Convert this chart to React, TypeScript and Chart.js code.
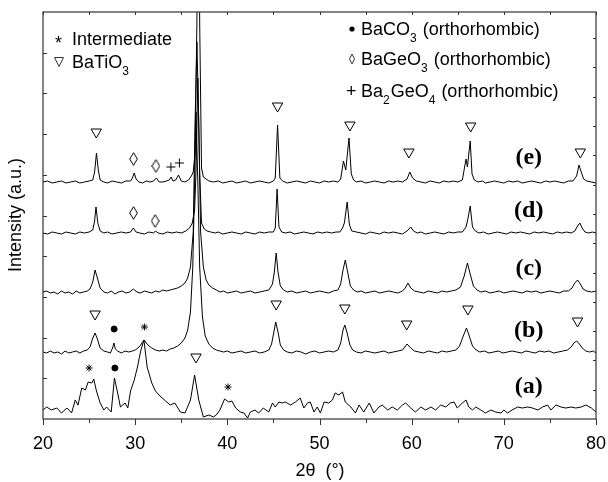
import { useEffect, useRef } from "react";
import { Chart, registerables } from "chart.js";
Chart.register(...registerables);

// ---------- data ----------
const xTicks = [20, 30, 40, 50, 60, 70, 80];
const xMinorTicks = [25, 35, 45, 55, 65, 75];
const curveNames = ["(a)", "(b)", "(c)", "(d)", "(e)"];

// (a) absolute, others relative to their own baseline
const seriesA: [number, number][] = [
  [20.0, 9], [20.4, 12], [20.9, 9], [21.5, 11], [22.0, 6], [22.6, 11], [23.1, 6], [23.5, 19], [23.8, 14], [24.2, 31],
  [24.6, 29], [24.9, 37], [25.3, 36], [25.5, 40], [25.8, 28], [26.2, 16], [26.6, 9], [26.9, 12], [27.4, 7], [27.75, 41],
  [28.1, 26], [28.4, 12], [28.9, 16], [29.2, 11], [29.5, 28], [29.9, 39], [30.25, 52], [30.6, 68], [30.95, 79], [31.3, 52],
  [31.8, 36], [32.2, 28], [32.7, 23], [33.3, 18], [33.8, 14], [34.3, 16], [34.9, 7], [35.4, 6], [36.0, 19], [36.45, 44],
  [36.9, 19], [37.4, 2], [38.0, 4], [38.5, 2], [38.8, 4], [39.2, 9], [39.7, 20], [40.15, 17], [40.5, 18], [40.9, 11],
  [41.4, 7], [41.8, 6], [42.2, 1], [42.5, 7], [43.0, 9], [43.4, 6], [43.9, 11], [44.5, 7], [44.9, 16], [45.2, 12],
  [45.6, 17], [45.95, 16], [46.3, 17], [46.85, 14], [47.4, 17], [47.9, 21], [48.3, 11], [48.7, 16], [49.0, 17], [49.4, 7],
  [49.75, 12], [50.1, 6], [50.5, 17], [51.0, 16], [51.4, 19], [51.7, 26], [52.1, 24], [52.5, 27], [52.8, 17], [53.4, 12],
  [53.9, 6], [54.3, 14], [54.8, 7], [55.4, 16], [55.9, 6], [56.45, 12], [56.8, 14], [57.4, 9], [57.9, 12], [58.45, 9],
  [59.0, 14], [59.35, 16], [59.9, 11], [60.4, 7], [61.0, 12], [61.5, 9], [62.1, 12], [62.6, 9], [63.15, 14], [63.7, 12],
  [64.2, 16], [64.6, 17], [64.95, 11], [65.5, 16], [65.9, 19], [66.2, 12], [66.6, 9], [66.95, 12], [67.5, 9], [68.0, 6],
  [68.6, 9], [69.1, 7], [69.7, 6], [70.0, 9], [70.4, 6], [70.9, 9], [71.5, 12], [72.0, 11], [72.6, 12], [73.1, 11],
  [73.7, 9], [74.2, 12], [74.75, 14], [75.1, 9], [75.65, 14], [76.2, 12], [76.7, 11], [77.3, 12], [77.8, 11], [78.4, 12],
  [78.9, 14], [79.5, 11], [80.0, 7],
];

const seriesB: [number, number][] = [
  [20, 0], [20.4, -1], [20.8, 1], [21.2, -1], [21.6, 0], [22, -2], [22.4, 1], [22.8, -1], [23.2, 0], [23.6, 1],
  [24, -1], [24.4, 1], [24.8, 2], [25.1, 5], [25.4, 14], [25.65, 19], [25.9, 13], [26.2, 4], [26.6, 1], [27, 0],
  [27.3, -1], [27.55, 4], [27.7, 9], [27.85, 3], [28.1, 1], [28.5, -1], [28.9, 1], [29.3, 0], [29.7, 1], [30, 2],
  [30.3, 4], [30.6, 7], [30.8, 10], [31, 12], [31.2, 9], [31.5, 6], [31.8, 4], [32.2, 2], [32.6, 1], [33, 2],
  [33.4, 1], [33.8, 3], [34.2, 4], [34.6, 6], [35, 9], [35.4, 14], [35.7, 22], [36, 40], [36.25, 85], [36.45, 170],
  [36.6, 240], [36.8, 170], [37.0, 85], [37.3, 35], [37.6, 16], [38, 8], [38.4, 4], [38.8, 2], [39.2, 1], [39.6, 0],
  [40, 1], [40.5, -1], [41, 0], [41.5, 1], [42, -1], [42.5, 0], [43, 1], [43.5, -1], [44, 0], [44.5, 2],
  [44.8, 8], [45.05, 20], [45.25, 30], [45.5, 20], [45.75, 7], [46.1, 2], [46.5, 0], [47, -1], [47.5, 1], [48, 0],
  [48.5, -2], [49, 0], [49.5, 1], [50, -1], [50.5, 0], [51, 1], [51.5, 0], [52, 2], [52.3, 9], [52.55, 22],
  [52.75, 27], [53, 19], [53.3, 7], [53.6, 2], [54, 0], [54.5, -1], [55, 1], [55.5, 0], [56, -1], [56.5, 0],
  [57, 1], [57.5, -1], [58, 0], [58.5, 1], [59, 2], [59.5, 8], [59.9, 4], [60.3, 1], [60.8, 0], [61.3, -1],
  [61.8, 1], [62.3, 0], [62.8, -1], [63.3, 1], [63.8, 0], [64.3, 1], [64.8, 2], [65.2, 6], [65.6, 16], [65.95, 24],
  [66.25, 16], [66.6, 6], [67, 2], [67.4, 0], [67.9, 1], [68.4, -1], [68.9, 0], [69.4, 1], [69.9, -1], [70.4, 0],
  [70.9, 1], [71.4, 0], [71.9, -1], [72.4, 1], [72.9, 0], [73.4, -1], [73.9, 1], [74.4, 0], [74.9, 1], [75.4, -1],
  [75.9, 0], [76.4, 1], [76.9, 2], [77.3, 5], [77.6, 9], [77.9, 11], [78.2, 8], [78.5, 4], [78.9, 1], [79.3, 0],
  [79.7, 1], [80, -1],
];

const seriesC: [number, number][] = [
  [20, 0], [20.4, 1], [20.8, -1], [21.2, 0], [21.6, -2], [22, 1], [22.4, -1], [22.8, 0], [23.2, -2], [23.6, 1],
  [24, -1], [24.4, 0], [24.8, 1], [25.1, 3], [25.4, 10], [25.65, 22], [25.9, 14], [26.2, 4], [26.6, 0], [27, -1],
  [27.4, 1], [27.8, -2], [28.2, 0], [28.6, 1], [29, -1], [29.4, 0], [29.8, 3], [30.2, 0], [30.6, -1], [31, 1],
  [31.4, 0], [31.8, -1], [32.2, 1], [32.6, 0], [33, 2], [33.4, 1], [33.8, 2], [34.2, 3], [34.6, 4], [35, 6],
  [35.4, 9], [35.7, 14], [36, 25], [36.3, 60], [36.5, 170], [36.7, 250], [36.9, 170], [37.1, 60], [37.4, 25], [37.7, 12],
  [38, 7], [38.4, 4], [38.8, 2], [39.2, 0], [39.6, 1], [40, -1], [40.5, 0], [41, 1], [41.5, -1], [42, 0],
  [42.5, 1], [43, -1], [43.5, 0], [44, 1], [44.5, 2], [44.9, 8], [45.1, 20], [45.3, 39], [45.5, 20], [45.75, 6],
  [46.1, 2], [46.5, 0], [47, 1], [47.5, -1], [48, 0], [48.5, 1], [49, -1], [49.5, 0], [50, 1], [50.5, 0],
  [51, -1], [51.5, 1], [52, 2], [52.3, 8], [52.55, 22], [52.8, 32], [53.05, 20], [53.35, 6], [53.7, 2], [54.1, 0],
  [54.5, 1], [55, -1], [55.5, 0], [56, 1], [56.5, -1], [57, 0], [57.5, 1], [58, 0], [58.5, -1], [59, 1],
  [59.3, 4], [59.6, 9], [59.9, 4], [60.3, 1], [60.8, 0], [61.3, -1], [61.8, 1], [62.3, 0], [62.8, -1], [63.3, 1],
  [63.8, 0], [64.3, 1], [64.8, 2], [65.3, 5], [65.7, 16], [66.05, 29], [66.35, 18], [66.7, 6], [67.1, 2], [67.5, 0],
  [68, 1], [68.5, -1], [69, 0], [69.5, 1], [70, -1], [70.5, 0], [71, 1], [71.5, 0], [72, -1], [72.5, 1],
  [73, 0], [73.5, 1], [74, -1], [74.5, 0], [75, 1], [75.5, 0], [76, -1], [76.5, 1], [77, 1], [77.4, 4],
  [77.7, 9], [78, 12], [78.3, 8], [78.6, 3], [79, 1], [79.5, 0], [80, 1],
];

const seriesD: [number, number][] = [
  [20, 0], [20.5, -1], [21, 1], [21.5, 0], [22, -1], [22.5, 1], [23, 0], [23.5, -1], [24, 1], [24.5, 0],
  [25, 1], [25.4, 3], [25.6, 12], [25.75, 26], [25.95, 10], [26.2, 2], [26.6, 0], [27, 1], [27.5, -1], [28, 0],
  [28.5, 1], [29, 0], [29.5, 1], [29.8, 5], [30.1, 1], [30.5, 0], [31, -1], [31.5, 1], [32, 0], [32.2, 2],
  [32.5, 0], [33, -1], [33.5, 1], [34, 0], [34.5, 1], [35, 0], [35.5, 2], [35.9, 5], [36.2, 10], [36.45, 23],
  [36.6, 60], [36.8, 155], [37.0, 60], [37.2, 10], [37.5, 4], [37.8, 2], [38.2, 1], [38.7, 0], [39, 1], [39.5, -1],
  [40, 0], [40.5, 1], [41, 0], [41.5, -1], [42, 1], [42.5, 0], [43, -1], [43.5, 1], [44, 0], [44.5, 1],
  [45, 1], [45.2, 5], [45.4, 44], [45.6, 6], [45.9, 1], [46.3, 0], [46.8, 1], [47.3, -1], [47.8, 0], [48.3, 1],
  [48.8, 0], [49.3, -1], [49.8, 1], [50.3, 0], [50.8, 1], [51.3, 0], [51.8, 1], [52.2, 1], [52.5, 5], [52.7, 10],
  [53.0, 31], [53.25, 8], [53.5, 2], [54, 1], [54.5, 0], [55, -1], [55.5, 1], [56, 0], [56.5, -1], [57, 1],
  [57.5, 0], [58, 1], [58.5, 0], [59, -1], [59.5, 2], [59.9, 6], [60.2, 2], [60.6, 0], [61, 1], [61.5, -1],
  [62, 0], [62.5, 1], [63, 0], [63.5, -1], [64, 1], [64.5, 0], [65, 1], [65.5, 1], [65.9, 6], [66.1, 14],
  [66.35, 27], [66.6, 6], [66.9, 2], [67.3, 0], [67.8, 1], [68.3, -1], [68.8, 0], [69.3, 1], [69.8, 0], [70.3, -1],
  [70.8, 1], [71.3, 0], [71.8, 1], [72.3, 0], [72.8, -1], [73.3, 1], [73.8, 0], [74.3, 1], [74.8, 0], [75.3, -1],
  [75.8, 1], [76.3, 0], [76.8, 1], [77.3, 0], [77.7, 2], [78.0, 7], [78.25, 10], [78.5, 5], [78.8, 1], [79.2, 0],
  [79.6, 1], [80, 0],
];

const seriesE: [number, number][] = [
  [20, 0], [20.5, 1], [21, -1], [21.5, 0], [22, 1], [22.5, -1], [23, 0], [23.5, 1], [24, -1], [24.5, 0],
  [25, 1], [25.4, 2], [25.6, 10], [25.8, 29], [26, 12], [26.2, 2], [26.6, 0], [27, -1], [27.5, 1], [28, 0],
  [28.5, -1], [29, 1], [29.5, 1], [29.7, 4], [29.9, 9], [30.1, 3], [30.4, 0], [30.8, -1], [31.2, 1], [31.6, 0],
  [32, 1], [32.3, 4], [32.6, 0], [33, 0], [33.4, 1], [33.7, 2], [33.9, 5], [34.1, 1], [34.4, 2], [34.7, 7],
  [35, 1], [35.4, 0], [35.8, 2], [36.1, 6], [36.3, 10], [36.5, 28], [36.7, 160], [36.85, 460], [37.0, 160], [37.2, 14],
  [37.4, 5], [37.7, 3], [38, 1], [38.5, 0], [39, 1], [39.5, -1], [40, 0], [40.5, 1], [41, -1], [41.5, 0],
  [42, 1], [42.5, -1], [43, 0], [43.5, 1], [44, 0], [44.5, -1], [45, 1], [45.2, 4], [45.45, 57], [45.7, 4],
  [46, 1], [46.5, -1], [47, 0], [47.5, 1], [48, 0], [48.5, -1], [49, 1], [49.5, 0], [50, -1], [50.5, 1],
  [51, 0], [51.5, 1], [52, 0], [52.3, 3], [52.6, 21], [52.85, 12], [53.2, 44], [53.45, 8], [53.7, 2], [54, 0],
  [54.5, 1], [55, -1], [55.5, 0], [56, 1], [56.5, 0], [57, -1], [57.5, 1], [58, 0], [58.5, 1], [59, 0],
  [59.5, 3], [59.8, 10], [60.1, 4], [60.5, 1], [61, 0], [61.5, -1], [62, 1], [62.5, 0], [63, -1], [63.5, 1],
  [64, 0], [64.5, 1], [65, 0], [65.5, 2], [65.9, 23], [66.05, 15], [66.35, 41], [66.55, 8], [66.8, 2], [67.2, 0],
  [67.7, 1], [68, -1], [68.5, 0], [69, 1], [69.5, 0], [70, -1], [70.5, 1], [71, 0], [71.5, 1], [72, -1],
  [72.5, 0], [73, 1], [73.5, 0], [74, -1], [74.5, 1], [75, 0], [75.5, 1], [76, 0], [76.5, -1], [77, 1],
  [77.5, 1], [77.9, 6], [78.15, 17], [78.4, 10], [78.65, 3], [79, 1], [79.5, 0], [80, -1],
];

// phase markers (2θ, plotted height)
const triangleMarks: [number, number][] = [
  [25.78, 287], [45.45, 313], [53.3, 294], [59.7, 267], [66.4, 293], [78.3, 267],
  [25.65, 105], [45.3, 115], [52.75, 111], [59.46, 95], [66.1, 110], [78.0, 98],
  [36.6, 62],
];
const diamondMarks: [number, number][] = [[29.82, 260], [32.25, 253], [29.82, 206], [32.17, 198]];
const crossMarks: [number, number][] = [[33.88, 252], [34.8, 256]];
const dotMarks: [number, number][] = [[27.72, 90], [27.8, 51]];
const starMarks: [number, number][] = [[31.0, 92], [25.0, 51], [40.07, 32]];

// ---------- layout / style (not data) ----------
const offsets = [0, 67, 127, 186, 237];
const labelX = 72.7;
const labelY = [32, 88, 150, 208, 261];
const FONT = '"Liberation Sans", Arial, sans-serif';

function makeDiamond(w: number, h: number) {
  const c = document.createElement("canvas");
  c.width = w;
  c.height = h;
  const g = c.getContext("2d")!;
  g.strokeStyle = "#000";
  g.lineWidth = 1;
  g.beginPath();
  g.moveTo(w / 2, 0.7);
  g.lineTo(w - 0.7, h / 2);
  g.lineTo(w / 2, h - 0.7);
  g.lineTo(0.7, h / 2);
  g.closePath();
  g.stroke();
  return c;
}

function drawParts(ctx: CanvasRenderingContext2D, x: number, y: number, parts: [string, boolean][]) {
  let cx = x;
  for (const [t, sub] of parts) {
    ctx.font = sub ? `12px ${FONT}` : `18px ${FONT}`;
    ctx.fillText(t, cx, sub ? y + 7 : y);
    cx += ctx.measureText(t).width + (sub ? 1 : 0);
  }
}

const decorPlugin = {
  id: "decor",
  afterDraw(chart: any) {
    const ctx: CanvasRenderingContext2D = chart.ctx;
    const { left, right, top, bottom } = chart.chartArea;
    const xs = chart.scales.x;
    const ys = chart.scales.y;
    ctx.save();
    ctx.strokeStyle = "#333";
    ctx.lineWidth = 1.2;
    ctx.strokeRect(left, top, right - left, bottom - top);
    ctx.lineWidth = 1;
    ctx.beginPath();
    for (const t of xTicks) {
      const px = Math.round(xs.getPixelForValue(t)) + 0.5;
      ctx.moveTo(px, bottom);
      ctx.lineTo(px, bottom + 6);
      ctx.moveTo(px, top);
      ctx.lineTo(px, top + 3);
    }
    for (const t of xMinorTicks) {
      const px = Math.round(xs.getPixelForValue(t)) + 0.5;
      ctx.moveTo(px, bottom);
      ctx.lineTo(px, bottom + 4);
      ctx.moveTo(px, top);
      ctx.lineTo(px, top + 3);
    }
    for (let k = 1; k * 40.7 < 407; k++) {
      const py = Math.round(ys.getPixelForValue(k * 40.7)) + 0.5;
      ctx.moveTo(left, py);
      ctx.lineTo(left + 4, py);
    }
    for (let k = 1; k * 29.3 < 407; k++) {
      const py = Math.round(ys.getPixelForValue(k * 29.3)) + 0.5;
      ctx.moveTo(right, py);
      ctx.lineTo(right - 3, py);
    }
    ctx.stroke();

    ctx.fillStyle = "#000";
    ctx.font = `18px ${FONT}`;
    ctx.textAlign = "center";
    ctx.textBaseline = "middle";
    for (const t of xTicks) ctx.fillText(String(t), xs.getPixelForValue(t), 444);
    ctx.fillText("2θ  (°)", 320, 471);
    ctx.save();
    ctx.translate(16, 215);
    ctx.rotate(-Math.PI / 2);
    ctx.fillText("Intensity (a.u.)", 0, 0);
    ctx.restore();

    // curve labels
    ctx.font = `bold 24px "Liberation Serif", "Times New Roman", serif`;
    curveNames.forEach((n, i) => {
      ctx.fillText(n, xs.getPixelForValue(labelX), ys.getPixelForValue(labelY[i]));
    });

    // legend
    ctx.textAlign = "left";
    ctx.textBaseline = "alphabetic";
    ctx.font = `18px ${FONT}`;
    ctx.fillText("*", 55, 49);
    drawParts(ctx, 72, 45, [["Intermediate", false]]);
    ctx.beginPath();
    ctx.moveTo(54.5, 57.5);
    ctx.lineTo(63.5, 57.5);
    ctx.lineTo(59, 66.5);
    ctx.closePath();
    ctx.lineWidth = 1;
    ctx.stroke();
    drawParts(ctx, 72, 68, [["BaTiO", false], ["3", true]]);

    ctx.beginPath();
    ctx.arc(352, 29, 2.6, 0, Math.PI * 2);
    ctx.fill();
    drawParts(ctx, 361, 35, [["BaCO", false], ["3", true], [" (orthorhombic)", false]]);
    ctx.beginPath();
    ctx.moveTo(352, 54);
    ctx.lineTo(354.5, 59);
    ctx.lineTo(352, 64);
    ctx.lineTo(349.5, 59);
    ctx.closePath();
    ctx.stroke();
    drawParts(ctx, 361, 65, [["BaGeO", false], ["3", true], [" (orthorhombic)", false]]);
    ctx.font = `18px ${FONT}`;
    ctx.fillText("+", 346, 97);
    drawParts(ctx, 361, 97, [["Ba", false], ["2", true], ["GeO", false], ["4", true], [" (orthorhombic)", false]]);
    ctx.restore();
  },
};

export default function App() {
  const ref = useRef<HTMLCanvasElement>(null);
  useEffect(() => {
    const all = [seriesA, seriesB, seriesC, seriesD, seriesE];
    const lineSets = all.map((s, i) => ({
      label: curveNames[i],
      data: s.map(([x, y]) => ({ x, y: y + offsets[i] })),
      borderColor: "#000",
      borderWidth: 1,
      pointRadius: 0,
      tension: 0,
      fill: false,
    }));
    const toPts = (arr: [number, number][]) => arr.map(([x, y]) => ({ x, y }));
    const markerBase = { showLine: false, borderColor: "#000", borderWidth: 1 };
    const diamond = makeDiamond(9, 14);
    const chart = new Chart(ref.current!, {
      type: "line",
      data: {
        datasets: [
          ...lineSets,
          { ...markerBase, label: "BaTiO3", data: toPts(triangleMarks), pointStyle: "triangle", pointRotation: 180, pointRadius: 6, pointBackgroundColor: "#fff" },
          { ...markerBase, label: "BaGeO3", data: toPts(diamondMarks), pointStyle: diamond, pointRadius: 6 },
          { ...markerBase, label: "Ba2GeO4", data: toPts(crossMarks), pointStyle: "cross", pointRadius: 4.5 },
          { ...markerBase, label: "BaCO3", data: toPts(dotMarks), pointStyle: "circle", pointRadius: 3, pointBackgroundColor: "#000" },
          { ...markerBase, label: "Intermediate", data: toPts(starMarks), pointStyle: "star", pointRadius: 3.5 },
        ] as any,
      },
      options: {
        animation: false,
        responsive: false,
        maintainAspectRatio: false,
        layout: { padding: { left: 43, right: 12, top: 12, bottom: 63 } },
        plugins: { legend: { display: false }, tooltip: { enabled: false } },
        scales: {
          x: { type: "linear", min: 20, max: 80, display: false },
          y: { type: "linear", min: 0, max: 407, display: false },
        },
      },
      plugins: [decorPlugin],
    });
    return () => chart.destroy();
  }, []);
  return (
    <div style={{ position: "fixed", left: 0, top: 0, width: 608, height: 482, background: "#fff" }}>
      <canvas ref={ref} width={608} height={482} style={{ display: "block" }} />
    </div>
  );
}
